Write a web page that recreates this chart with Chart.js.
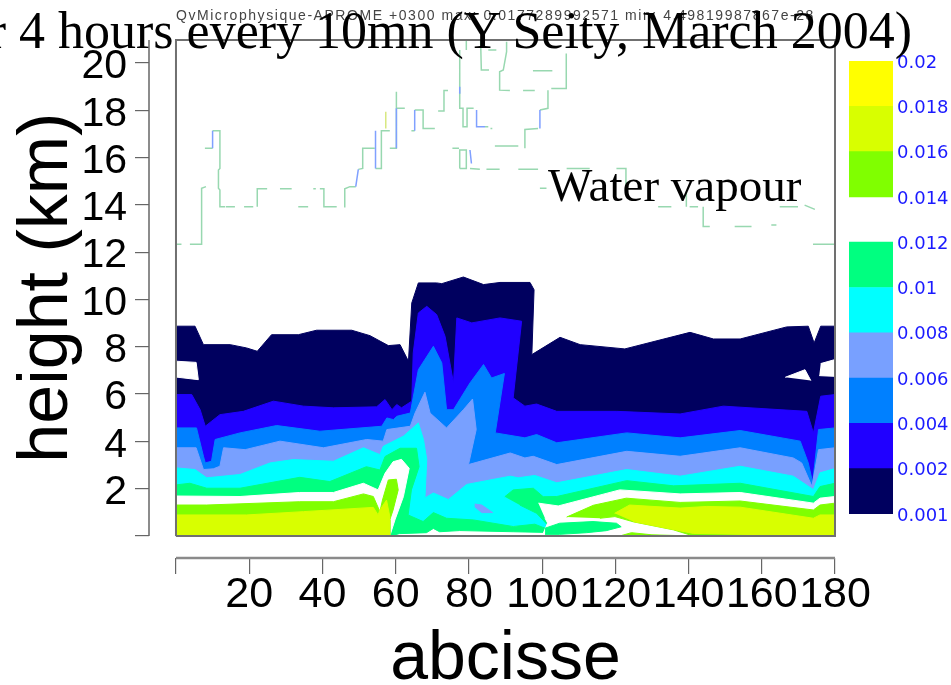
<!DOCTYPE html>
<html>
<head>
<meta charset="utf-8">
<title>Water vapour</title>
<script src="https://cdn.jsdelivr.net/npm/chart.js@4/dist/chart.umd.js"></script>
<style>
  html, body { margin: 0; padding: 0; background: #fff; }
  #page { position: relative; width: 951px; height: 685px; overflow: hidden; }
  canvas { position: absolute; filter: blur(0.7px); }
  #mainChart { left: 0; top: 0; }
  #scaleChart { left: 840px; top: 40px; }
  .serif { position: absolute; font-family: "Liberation Serif", serif; font-size: 47px; line-height: 54px; color: #000; white-space: nowrap; }
  #bigTitle { right: 39px; top: 4px; font-size: 52px; }
  #note { left: 548px; top: 158px; }
</style>
</head>
<body>
<div id="page">
  <canvas id="mainChart" width="951" height="685"></canvas>
  <canvas id="scaleChart" width="111" height="500"></canvas>
  <div id="bigTitle" class="serif">for 4 hours every 10mn (Y Seity, March 2004)</div>
  <div id="note" class="serif">Water vapour</div>
</div>

<script>
// axes
const xTicks = [0, 20, 40, 60, 80, 100, 120, 140, 160, 180];
const yTicks = [0, 2, 4, 6, 8, 10, 12, 14, 16, 18, 20];
const xMin = -7.37;
const xMax = 180;
const yMin = -0.93;
const yMax = 20.97;

const topLine = "QvMicrophysique-APROME +0300 max: 0.0177289992571 min: 4.49819987867e-28";

// contours: [abcisse, height km]
const navyTop = [[0,8.87],[5.2,8.87],[7.5,8.09],[14.8,8.09],[19.3,7.95],[22.2,7.81],[26.1,8.51],[33.4,8.51],[38.4,8.7],[48,8.7],[53,8.47],[58,8.05],[61.2,8.09],[63.5,7.39],[64.4,9.85],[66.2,10.7],[71.2,10.7],[72.6,10.67],[78.5,10.95],[84,10.63],[88.5,10.72],[96.7,10.72],[97.8,10.41],[97.2,7.67],[104.9,8.4],[110.4,8.09],[122.6,7.91],[140.4,8.61],[146.8,8.33],[154.1,8.33],[166.8,8.84],[172.7,8.87],[174.3,8.16],[176.1,8.87],[180,8.87],[180,0],[0,0]];
const holeLeft = [[0,7.39],[5.5,7.34],[6.1,6.61],[0,6.72]];
const holeRight = [[176.1,7.29],[180,7.46],[180,6.75],[175.7,6.78]];
const holeSmall = [[166.4,6.71],[171.8,7.03],[173.4,6.57]];
const blueTop = [[0,5.98],[4.3,5.98],[6.6,5.34],[8,4.64],[12,5.13],[18.4,5.27],[26.6,5.7],[34.8,5.49],[43,5.42],[54.8,5.46],[57.1,5.77],[59,5.34],[60.3,5.56],[61.6,5.42],[64.4,5.7],[64.8,7.74],[66.2,9.43],[68.5,9.71],[71.2,9.36],[73.5,8.44],[75.8,6.47],[76.7,9.22],[80.8,9.01],[88.5,9.22],[94.4,9.08],[92.1,5.84],[95.3,5.49],[98.5,5.58],[104,5.27],[120.4,5.27],[137.7,5.16],[149.5,5.49],[172.3,5.27],[174.1,4.36],[176.1,5.91],[180,5.98],[180,0],[0,0]];
const midBlueTop = [[0,4.57],[5.6,4.57],[7.5,3.37],[8,3.09],[9.7,3.16],[10.7,4.08],[17.5,4.36],[27.5,4.67],[39.3,4.43],[56.2,4.64],[57.6,4.99],[59.4,4.92],[60.3,5.06],[64,5.2],[66.2,7.03],[70.3,8.02],[72.6,7.32],[73.9,5.34],[75.8,5.34],[80.3,6.47],[84,7.25],[86.2,6.68],[89.7,6.87],[87.2,4.36],[95.3,4.15],[98.5,4.29],[104,3.94],[123.1,4.36],[137.7,4.15],[154.1,4.46],[170.5,4.01],[172.7,3.09],[173.9,2.25],[175.5,4.5],[180,4.57],[180,0],[0,0]];
const paleBlueTop = [[0,3.73],[5.5,3.73],[7.5,2.81],[10.2,2.84],[12,2.95],[13,3.73],[18.9,3.65],[28.4,4.01],[40.3,3.73],[52.1,4.08],[56.6,4.01],[57.6,4.5],[64,4.64],[65.3,5.2],[68,6.08],[69.4,5.2],[73.9,4.57],[78.5,5.34],[81,5.79],[82,4.5],[79.9,3.02],[91.3,3.51],[95.3,3.3],[97.6,3.37],[104,3.02],[123.1,3.58],[137.7,3.37],[154.1,3.73],[168.6,3.3],[170.9,3.09],[173.7,2.1],[175.5,3.65],[180,3.73],[180,0],[0,0]];
const cyanTop = [[0,2.88],[5.2,2.81],[8.4,2.46],[17.5,2.6],[25.7,3.09],[32,3.23],[43,3.16],[51.2,3.73],[55.7,3.44],[56.6,3.79],[62.1,4.22],[66.2,4.78],[67.6,4.08],[68.5,3.23],[68,1.61],[70.3,1.82],[74.4,1.54],[79.4,2.18],[91.3,2.53],[93.5,2.46],[98,2.56],[104,2.25],[123.1,2.81],[137.7,2.53],[154.1,2.95],[168.6,2.53],[174.1,1.96],[175.9,2.67],[180,2.85],[180,0],[0,0]];
const cyanIsland = [[81.6,1.35],[83.5,1.31],[86.5,0.99],[83.5,0.99],[81.6,1.24]];
const floorGap = [[58.3,0],[60,0.4],[98,0.4],[100.8,0.3],[105,0]];
const greenLeft = [[0,2.16],[3.8,2.23],[8.4,2.02],[17.5,2.02],[33.8,2.48],[42,2.3],[52,2.93],[55.7,2.79],[57.1,3.36],[61.2,3.71],[65.7,3.71],[66.4,2.93],[64.3,1.95],[63.4,0.89],[67.5,0.61],[70.3,0.99],[73.9,0.75],[81.2,0.68],[92.1,0.4],[98,0.5],[102.1,0.25],[104.8,0.14],[92.1,0.18],[77.5,0.23],[72,0.18],[70.3,0.32],[68.4,0.14],[61,0.1],[58.5,0],[0,0]];
const greenRight = [[89.8,1.66],[92.1,1.95],[97.6,2.02],[100.3,1.66],[104,1.67],[123.1,2.34],[135.9,2.12],[154.1,2.23],[174.1,1.67],[175.9,2.09],[180,2.23],[180,0],[120,0],[102.1,0.37],[98.5,0.96],[93.9,1.31]];
const whiteLeft = [[0,1.69],[17.5,1.67],[33.8,1.84],[43,1.84],[51.2,2.23],[55.2,1.95],[57.1,2.65],[59.3,3.14],[61.6,3.24],[63.7,2.86],[62.1,1.66],[59.8,0.68],[58.4,0],[0,0]];
const whiteRight = [[99,1.39],[104.4,1.27],[121.2,1.95],[137.7,1.78],[154.1,1.84],[174.1,1.39],[175.9,1.6],[180,1.67],[180,0],[100,0],[101.5,0.55],[100.8,0.75]];
const greenLow = [[100.8,0.33],[104.8,0.54],[113.9,0.61],[120.3,0.54],[121.6,0.39],[117.5,0.225],[112.1,0.14],[104.8,0.07],[100.8,0.07]];
const limeLeft = [[0,1.31],[8.4,1.31],[33.8,1.45],[43,1.45],[51.2,1.78],[53.9,1.67],[55.7,1.03],[56.4,1.52],[58,2.37],[60.2,2.4],[60.7,1.95],[59.3,1.1],[58.4,0.68],[58.4,0],[0,0]];
const limeRight = [[106.7,0.8],[114,1.3],[123,1.6],[137.7,1.42],[154.1,1.48],[174.1,1.1],[175.9,1.31],[180,1.39],[180,0],[141.3,0],[135.9,0.26],[124.9,0.6],[119.9,0.82],[115.8,0.75]];
const limeLow = [[121.2,0],[124.4,0.14],[130,0.05],[141.3,0]];
const yellowLeft = [[0,0.89],[19.3,0.89],[34.8,1.03],[53.9,1.21],[55.2,0.89],[55.7,1.1],[57.5,1.52],[58.4,0.82],[58.3,0],[0,0]];
const yellowRight = [[119.8,0.96],[123.9,1.31],[137.7,1.18],[145,1.25],[154.1,1.22],[174.1,0.75],[175.9,0.89],[180,0.89],[180,0],[141.3,0.11],[134,0.33],[124.9,0.61]];

// thin broken contour at the top, gaps are [null, null]
const gap = [null, null];
const tropoGreen = [[0.2,12.33],[1.5,12.33],gap,[3.8,12.33],[7,12.33],[7,14.7],[8.2,14.77],gap,[7.9,16.39],[10,16.39],gap,[10,17.13],[12,17.13],[12,15.54],[11.6,15.47],[11.6,14.7],[12,14.63],[12,13.92],[13.4,13.92],gap,[13.6,13.92],[16.1,13.92],gap,[18.6,13.92],[21.1,13.92],gap,[22.2,13.92],[22.2,14.68],[24.9,14.68],gap,[28.4,14.68],[31.6,14.68],gap,[33.4,13.92],[36.1,13.92],gap,[37.5,14.68],[38.2,14.68],gap,[39.3,14.68],[40.4,14.68],[40.4,13.92],[43.9,13.92],gap,[45.9,13.92],[46.1,14.68],[47.5,14.77],[49.1,14.77],gap,[49.8,15.5],[51,15.54],[51,16.39],[54.3,16.39],gap,[54.5,15.54],[56.1,15.54],[56.1,17.13],[58.4,17.13],gap,[58.4,16.39],[60.2,16.39],[60.2,18.78],gap,[60.2,18.08],[62.5,18.08],gap,[64.3,17.13],[65.2,17.13],gap,[65.2,18.01],[67.5,18.01],[67.5,17.23],[70.7,17.23],gap,[71.6,17.97],[73.2,17.97],[73.2,18.83],[74.3,18.83],gap,[77.5,20.55],[77.5,18.08],[78.4,18.08],[78.4,17.3],[79.5,17.3],[79.5,18.08],[81.3,18.08],gap,[84.4,17.3],[85.3,17.3],gap,[85.9,17.23],[86.4,17.23],gap,[79.3,20.97],[79.3,20.55],gap,[83.2,20.97],[83.4,19.7],[85.5,19.7],gap,[85.3,20.55],[87.5,20.55],gap,[90.3,20.9],[90.3,20.48],[89.4,19.7],[88.4,19.63],[88.4,18.85],[91.2,18.83],gap,[94.8,18.83],[98,18.83],gap,[97.5,19.67],[102.8,19.67],gap,[106.6,20.4],[106.6,18.92],[102.5,18.92],gap,[101.6,18.85],[101.6,18.08],[99.4,18.01],gap,[98.9,17.23],[95.3,17.19],[95.3,16.39],gap,[93.5,16.49],[87.1,16.49],gap,[75.5,16.39],[77.3,16.39],gap,[77.5,15.54],[77.5,16.32],[79.3,16.32],[79.3,15.54],[77.5,15.54],gap,[80.3,15.54],[83,15.51],gap,[84.8,15.51],[88.4,15.51],gap,[93.5,15.51],[98.9,15.51],gap,[99.4,14.7],[101.2,14.7],gap,[106.7,15.54],[113,15.54],gap,[120.3,15.54],[122.9,15.54],[122.9,14.68],gap,[131.7,13.92],[135.3,13.92],gap,[139.4,14.56],[139.4,13.92],gap,[140.3,13.92],[142.6,13.92],gap,[144,13.92],[144,13.08],[145.8,13.08],gap,[152.6,13.08],[157.2,13.08],gap,[162.6,13.15],[164,13.15],gap,[164.9,13.92],[169.9,13.92],gap,[171.7,13.99],[174.5,13.81],gap,[174,12.33],[180,12.33]];
const tropoBlue = [[10,16.39],[10,17.13],gap,[49.1,14.77],[49.8,15.5],gap,[54.5,17.13],[54.5,15.54],gap,[60.2,18.08],[60.2,16.39],gap,[65.2,17.13],[65.2,18.01],gap,[77.5,18.99],[77.5,18.7],gap,[82.1,18.01],[82.1,17.3],[84.4,17.3],gap,[80.3,16.32],[80.7,15.75],gap,[99.4,18.01],[99.4,17.23]];
const tropoYellow = [[57.3,17.94],[57.3,17.23]];

// frame and axis lines
const frameBox = [[0,0],[180,0],[180,yMax],[0,yMax],[0,0]];
const xAxisLine = [[0,yMin],[180,yMin]];
const yAxisLine = [[xMin,0],[xMin,yMax]];

// colour scale on the right, one rank per label
const scaleLabels = ["0.001","0.002","0.004","0.006","0.008","0.01","0.012","0.014","0.016","0.018","0.02"];
const scaleRanks = [0,1,2,3,4,5,6,7,8,9,10];
const scaleBands = [[0,1],[1,2],[2,3],[3,4],[4,5],[5,6],[7,8],[8,9],[9,10]];
const scaleColors = ["#00005f","#2000ff","#0080ff","#78a0ff","#00ffff","#00ff80","#80ff00","#d8ff00","#ffff00"];
const [navy, blue, midBlue, paleBlue, cyan, green, lime, yellowGreen] = scaleColors;

function area(points, color) {
  return { data: points, showLine: true, fill: "shape", backgroundColor: color, borderColor: color, borderWidth: 1, pointRadius: 0 };
}

function stroke(points, color, width) {
  return { data: points, showLine: true, fill: false, borderColor: color, borderWidth: width, pointRadius: 0, spanGaps: false, clip: false };
}

// painted in this order, the list is reversed below because chart.js draws the first dataset last
const layers = [
  area(navyTop, navy),
  area(holeLeft, "#fff"), area(holeRight, "#fff"), area(holeSmall, "#fff"),
  area(blueTop, blue),
  area(midBlueTop, midBlue),
  area(paleBlueTop, paleBlue),
  area(cyanTop, cyan),
  area(cyanIsland, paleBlue),
  area(floorGap, "#fff"),
  area(greenLeft, green),
  area(greenRight, green),
  area(whiteLeft, "#fff"),
  area(whiteRight, "#fff"),
  area(greenLow, green),
  area(limeLeft, lime),
  area(limeRight, lime),
  area(limeLow, lime),
  area(yellowLeft, yellowGreen),
  area(yellowRight, yellowGreen),
  stroke(tropoGreen, "#98d8b0", 1.5),
  stroke(tropoBlue, "#80a0ff", 1.5),
  stroke(tropoYellow, "#d8e880", 1.5),
  stroke(frameBox, "#707070", 2),
  stroke(xAxisLine, "#8a8a8a", 2.5),
  stroke(yAxisLine, "#666", 1.5)
];

// the labels of the y axis sit a little lower than their tick in the picture
function nudgeLabels(scale, chart, shift) {
  scale.getLabelItems(chart.chartArea).forEach(item => { item.options.translation[1] += shift; });
}

// axis titles and the small line above the plot
const textPlugin = {
  id: "axisText",
  afterLayout(chart) {
    nudgeLabels(chart.scales.y, chart, 4);
  },
  afterDraw(chart) {
    const ctx = chart.ctx;
    const { x, y } = chart.scales;
    ctx.save();
    ctx.fillStyle = "#000";
    ctx.textBaseline = "alphabetic";

    ctx.textAlign = "center";
    ctx.font = '68px "Liberation Sans", Arial, sans-serif';
    ctx.fillText("abcisse", x.getPixelForValue(90), 679);

    ctx.save();
    ctx.translate(67, y.getPixelForValue(10.5));
    ctx.rotate(-Math.PI / 2);
    ctx.font = '70px "Liberation Sans", Arial, sans-serif';
    ctx.fillText("height (km)", 0, 0);
    ctx.restore();

    ctx.textAlign = "left";
    ctx.fillStyle = "#444";
    ctx.font = '14px "Liberation Sans", Arial, sans-serif';
    ctx.letterSpacing = "1.55px";
    ctx.fillText(topLine, x.getPixelForValue(0), 20);
    ctx.restore();
  }
};

new Chart(document.getElementById("mainChart"), {
  type: "scatter",
  data: { datasets: layers.reverse() },
  plugins: [textPlugin],
  options: {
    responsive: false,
    animation: false,
    layout: { padding: { top: 40, right: 116 } },
    plugins: { legend: { display: false }, tooltip: { enabled: false } },
    scales: {
      x: {
        type: "linear",
        min: xMin,
        max: xMax,
        border: { display: false },
        grid: { drawOnChartArea: false, tickLength: 16, color: "#666", lineWidth: 1.2 },
        afterBuildTicks: scale => { scale.ticks = xTicks.map(value => ({ value })); },
        afterFit: scale => { scale.height = 127; },
        ticks: {
          autoSkip: false,
          maxRotation: 0,
          padding: -5,
          color: "#000",
          font: { family: '"Liberation Sans", Arial, sans-serif', size: 43 },
          callback: value => (value === 0 ? "" : value)
        }
      },
      y: {
        type: "linear",
        min: yMin,
        max: yMax,
        border: { display: false },
        grid: { drawOnChartArea: false, tickLength: 14, color: "#666", lineWidth: 1.2 },
        afterBuildTicks: scale => { scale.ticks = yTicks.map(value => ({ value })); },
        afterFit: scale => { scale.width = 149; },
        ticks: {
          autoSkip: false,
          padding: 8,
          color: "#000",
          font: { family: '"Liberation Sans", Arial, sans-serif', size: 41 },
          callback: value => (value === 0 ? "" : value)
        }
      }
    }
  }
});

new Chart(document.getElementById("scaleChart"), {
  type: "bar",
  data: {
    labels: [""],
    datasets: scaleBands.map((band, i) => ({
      data: [band],
      backgroundColor: scaleColors[i],
      barPercentage: 1,
      categoryPercentage: 1,
      grouped: false
    }))
  },
  plugins: [{
    id: "scaleLabelShift",
    afterLayout(chart) {
      nudgeLabels(chart.scales.y, chart, 2);
    }
  }],
  options: {
    responsive: false,
    animation: false,
    layout: { padding: { left: 9, top: 21, bottom: 26 } },
    plugins: { legend: { display: false }, tooltip: { enabled: false } },
    scales: {
      x: { display: false },
      y: {
        position: "right",
        min: 0,
        max: 10,
        border: { display: false },
        grid: { display: false, drawTicks: false },
        afterBuildTicks: scale => { scale.ticks = scaleRanks.map(value => ({ value })); },
        afterFit: scale => { scale.width = 58; },
        ticks: {
          autoSkip: false,
          padding: 4,
          color: "#1a1aff",
          font: { family: '"DejaVu Sans", sans-serif', size: 18 },
          callback: value => scaleLabels[value]
        }
      }
    }
  }
});
</script>
</body>
</html>
